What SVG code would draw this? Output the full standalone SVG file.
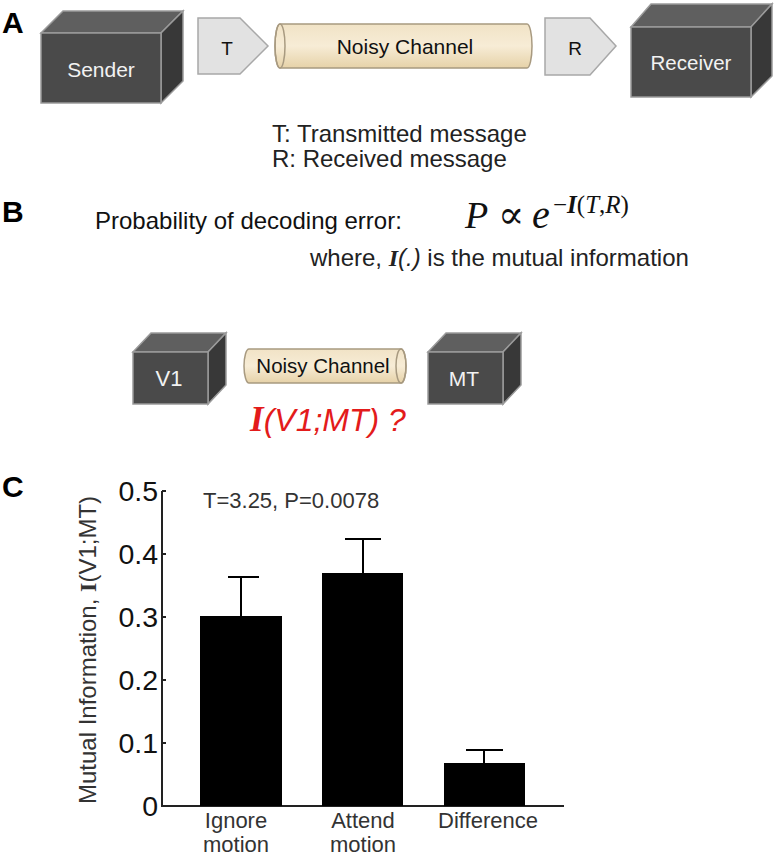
<svg xmlns="http://www.w3.org/2000/svg" width="774" height="853" viewBox="0 0 774 853">
<defs>
<linearGradient id="cyl" x1="0" y1="0" x2="0" y2="1">
<stop offset="0" stop-color="#f1e3c6"/>
<stop offset="0.5" stop-color="#f7ecd6"/>
<stop offset="1" stop-color="#e6d2a8"/>
</linearGradient>
</defs>
<style>
.front{fill:#4a4a4a;stroke:#9a9a9a;stroke-width:1.5}
.top{fill:#5f5f5f;stroke:#9a9a9a;stroke-width:1.5}
.side{fill:#383838;stroke:#9a9a9a;stroke-width:1.5}
.pent{fill:#e2e2e2;stroke:#a8a8a8;stroke-width:1.5}
.cyl{fill:url(#cyl);stroke:#a89a80;stroke-width:1.5}
.sans{font-family:"Liberation Sans",Arial,sans-serif}
.serif{font-family:"Liberation Serif","Times New Roman",serif}
.boxt{fill:#f2f2f2;font-family:"Liberation Sans",Arial,sans-serif;text-anchor:middle}
.lab{font-family:"Liberation Sans",Arial,sans-serif;font-weight:bold;font-size:30px;fill:#000}
.tick{font-family:"Liberation Sans",Arial,sans-serif;font-size:28.5px;fill:#111;text-anchor:end}
.xl{font-family:"Liberation Sans",Arial,sans-serif;font-size:22px;fill:#333;text-anchor:middle}
.bar{fill:#000}
.err{stroke:#000;stroke-width:2;fill:none}
</style>
<text class="lab" x="2" y="33">A</text>
<text class="lab" x="2" y="222">B</text>
<text class="lab" x="2" y="497">C</text>

<g id="sender">
<polygon class="top" points="41,33 63,11 183,11 161,33"/>
<polygon class="side" points="161,33 183,11 183,81 161,103"/>
<rect class="front" x="41" y="33" width="120" height="70"/>
<text class="boxt" x="101" y="77" font-size="21">Sender</text>
</g>
<g id="t">
<polygon class="pent" points="198,18 240,18 268,46 240,74 198,74"/>
<text class="sans" x="227" y="55" font-size="19" text-anchor="middle" fill="#111">T</text>
</g>
<g id="channel">
<path class="cyl" d="M280,24 L527,24 A5,22 0 0 1 527,68 L280,68 A5,22 0 0 1 280,24 Z"/>
<ellipse cx="280" cy="46" rx="5" ry="22" fill="none" stroke="#a89a80" stroke-width="1.5"/>
<text class="sans" x="405" y="54" font-size="21" text-anchor="middle" fill="#111">Noisy Channel</text>
</g>
<g id="r">
<polygon class="pent" points="545,18 590,18 616,46 590,75 545,75"/>
<text class="sans" x="575" y="55" font-size="19" text-anchor="middle" fill="#111">R</text>
</g>
<g id="receiver">
<polygon class="top" points="631,27 651,4 772,4 751,27"/>
<polygon class="side" points="751,27 772,4 772,76 751,97"/>
<rect class="front" x="631" y="27" width="120" height="70"/>
<text class="boxt" x="691" y="70" font-size="20.5">Receiver</text>
</g>

<text class="sans" x="272" y="142" font-size="24" fill="#222">T: Transmitted message</text>
<text class="sans" x="272" y="167" font-size="24" fill="#222">R: Received message</text>

<text class="sans" x="95" y="229" font-size="24" fill="#111">Probability of decoding error:</text>
<text class="serif" x="465" y="228" font-size="38" font-style="italic" fill="#111">P</text>
<text x="498" y="228" font-family="'DejaVu Serif',serif" font-size="39" fill="#111">∝</text>
<text class="serif" x="532" y="228" font-size="40" font-style="italic" fill="#111">e</text>
<text class="serif" x="553" y="213" font-size="25" fill="#111">−<tspan font-weight="bold" font-style="italic">I</tspan>(<tspan font-style="italic">T</tspan>,<tspan font-style="italic">R</tspan>)</text>
<text class="sans" x="310" y="266" font-size="24" fill="#222">where, <tspan class="serif" font-weight="bold" font-style="italic">I</tspan><tspan font-style="italic">(.)</tspan> is the mutual information</text>

<g id="v1">
<polygon class="top" points="133,352 151,333 226,333 208,352"/>
<polygon class="side" points="208,352 226,333 226,385 208,404"/>
<rect class="front" x="133" y="352" width="75" height="52"/>
<text class="boxt" x="169" y="386" font-size="22">V1</text>
</g>
<g id="channel2">
<path class="cyl" d="M249,349 L401,349 A5,17 0 0 1 401,383 L249,383 A5,17 0 0 1 249,349 Z"/>
<ellipse cx="401" cy="366" rx="5" ry="17" fill="none" stroke="#a89a80" stroke-width="1.5"/>
<text class="sans" x="323" y="373" font-size="20.5" text-anchor="middle" fill="#111">Noisy Channel</text>
</g>
<g id="mt">
<polygon class="top" points="428,352 446,333 521,333 503,352"/>
<polygon class="side" points="503,352 521,333 521,385 503,404"/>
<rect class="front" x="428" y="352" width="75" height="52"/>
<text class="boxt" x="464" y="386" font-size="21">MT</text>
</g>
<text x="250" y="431" font-family="'Liberation Sans',Arial,sans-serif" font-size="32" font-style="italic" fill="#e31b1b"><tspan class="serif" font-weight="bold" font-size="35">I</tspan>(V1;MT) ?</text>

<g id="chart">
<path d="M162,491 L162,806 L564,806" fill="none" stroke="#222" stroke-width="2"/>
<path d="M162,491 h4 M162,554 h4 M162,617 h4 M162,680 h4 M162,743 h4" stroke="#222" stroke-width="2"/>
<text class="tick" x="158" y="501">0.5</text>
<text class="tick" x="158" y="564">0.4</text>
<text class="tick" x="158" y="627">0.3</text>
<text class="tick" x="158" y="690">0.2</text>
<text class="tick" x="158" y="753">0.1</text>
<text class="tick" x="158" y="816">0</text>
<text class="sans" x="203" y="508" font-size="22" fill="#333">T=3.25, P=0.0078</text>
<text transform="translate(96,650) rotate(-90)" font-family="'Liberation Sans',Arial,sans-serif" font-size="24" fill="#333" text-anchor="middle">Mutual Information, <tspan class="serif" font-weight="bold">I</tspan>(V1;MT)</text>
<rect class="bar" x="200" y="616" width="82" height="190"/>
<path class="err" d="M241,616 L241,577 M228,577 L259,577"/>
<rect class="bar" x="322" y="573" width="81" height="233"/>
<path class="err" d="M363,573 L363,539 M345,539 L381,539"/>
<rect class="bar" x="444" y="763" width="81" height="43"/>
<path class="err" d="M484,763 L484,750 M466,750 L503,750"/>
<text class="xl" x="236" y="828">Ignore</text>
<text class="xl" x="236" y="852">motion</text>
<text class="xl" x="363" y="828">Attend</text>
<text class="xl" x="363" y="852">motion</text>
<text class="xl" x="488" y="828">Difference</text>
</g>
</svg>
